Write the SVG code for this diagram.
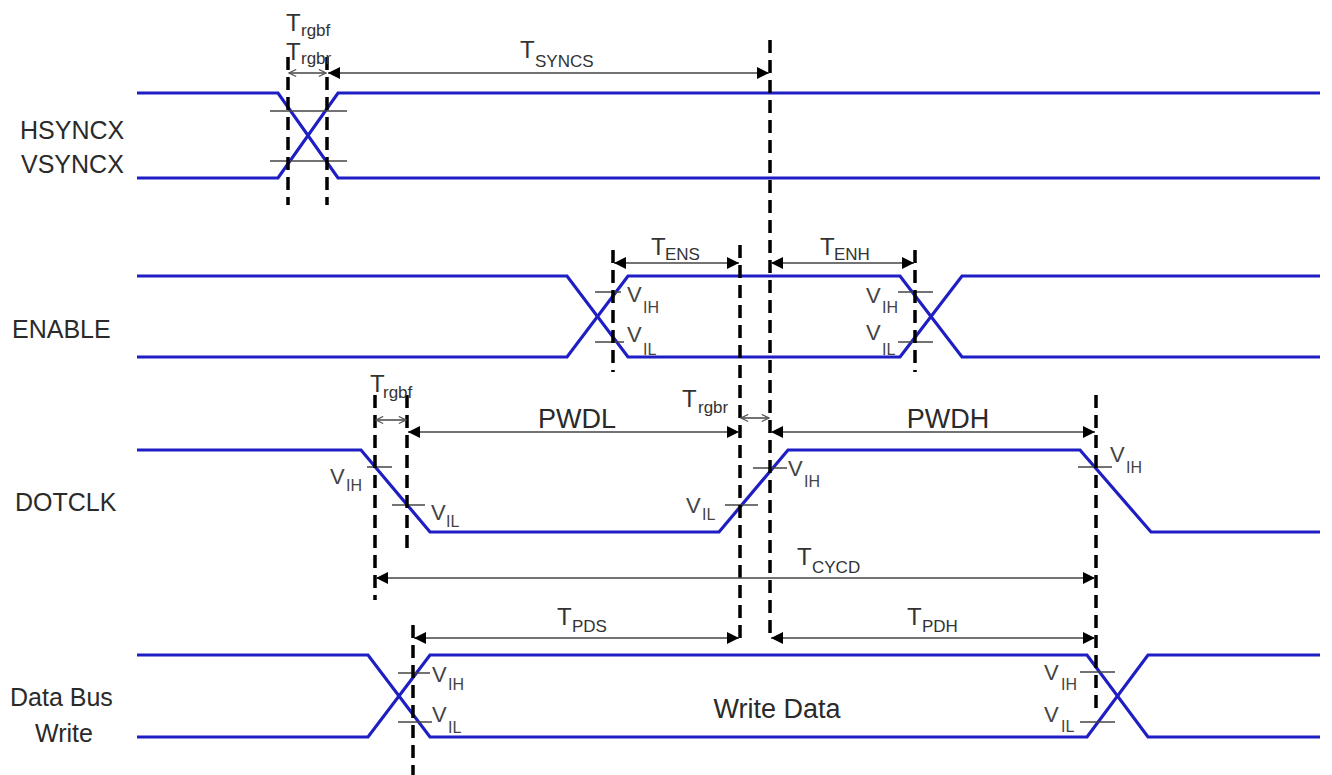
<svg xmlns="http://www.w3.org/2000/svg" width="1332" height="775" viewBox="0 0 1332 775">
<defs>
<style>
.sig{fill:none;stroke:#1e1ec4;stroke-width:3.2;stroke-linejoin:miter}
.dash{stroke:#000;stroke-width:3.5;stroke-dasharray:13 7;fill:none}
.dim{stroke:#444;stroke-width:1.5;fill:none}
.tick{stroke:#444;stroke-width:1.5}
.lbl{font-family:"Liberation Sans",Arial,sans-serif;font-size:25px;fill:#2a2a2a}
.big{font-size:27px}
.t{font-family:"Liberation Sans",Arial,sans-serif;font-size:24px;fill:#333}
.sub{font-size:17px}
.v{font-family:"Liberation Sans",Arial,sans-serif;font-size:22px;fill:#444}
.vs{font-size:16px}
</style>
<marker id="fa" viewBox="0 0 12 12" refX="12" refY="6" markerWidth="12" markerHeight="12" markerUnits="userSpaceOnUse" orient="auto-start-reverse"><path d="M0,0 L12,6 L0,12 z" fill="#000"/></marker>
<marker id="oa" viewBox="0 0 10 10" refX="9" refY="5" markerWidth="9" markerHeight="9" markerUnits="userSpaceOnUse" orient="auto-start-reverse"><path d="M1,1 L9,5 L1,9" fill="none" stroke="#555" stroke-width="1.3"/></marker>
</defs>
<rect width="1332" height="775" fill="#fff"/>

<g id="hsync">
<path class="sig" d="M137,93 H278 L338,178 H1320"/>
<path class="sig" d="M137,178 H278 L338,93 H1320"/>
<line class="tick" x1="270" y1="111" x2="347" y2="111"/>
<line class="tick" x1="270" y1="161" x2="347" y2="161"/>
<text class="lbl" x="20" y="139">HSYNCX</text>
<text class="lbl" x="21" y="173">VSYNCX</text>
</g>

<g id="enable">
<path class="sig" d="M137,276 H567 L628,357 H900 L962,276 H1320"/>
<path class="sig" d="M137,357 H567 L628,276 H900 L962,357 H1320"/>
<line class="tick" x1="595" y1="292" x2="621" y2="292"/>
<line class="tick" x1="595" y1="342" x2="624" y2="342"/>
<line class="tick" x1="898" y1="292" x2="933" y2="292"/>
<line class="tick" x1="898" y1="342" x2="933" y2="342"/>
<text class="lbl" x="12" y="338">ENABLE</text>
<text class="v" x="627" y="302">V<tspan class="vs" x="643" y="313">IH</tspan></text>
<text class="v" x="627" y="342">V<tspan class="vs" x="643" y="355">IL</tspan></text>
<text class="v" x="866" y="303">V<tspan class="vs" x="882" y="313">IH</tspan></text>
<text class="v" x="866" y="340">V<tspan class="vs" x="882" y="355">IL</tspan></text>
</g>

<g id="dotclk">
<path class="sig" d="M137,450 H265" stroke-width="5"/>
<path class="sig" d="M265,450 H361 L430,532 H719 L788,450 H1080 L1151,532 H1320"/>
<line class="tick" x1="367" y1="467" x2="392" y2="467"/>
<line class="tick" x1="392" y1="505" x2="425" y2="505"/>
<line class="tick" x1="725" y1="505" x2="758" y2="505"/>
<line class="tick" x1="753" y1="468" x2="787" y2="468"/>
<line class="tick" x1="1078" y1="467" x2="1112" y2="467"/>
<text class="lbl" x="15" y="511">DOTCLK</text>
<text class="v" x="330" y="484">V<tspan class="vs" x="346" y="491">IH</tspan></text>
<text class="v" x="431" y="520">V<tspan class="vs" x="446" y="527">IL</tspan></text>
<text class="v" x="686" y="513">V<tspan class="vs" x="702" y="520">IL</tspan></text>
<text class="v" x="788" y="476">V<tspan class="vs" x="804" y="487">IH</tspan></text>
<text class="v" x="1110" y="462">V<tspan class="vs" x="1126" y="473">IH</tspan></text>
</g>

<g id="databus">
<path class="sig" d="M137,655 H368 L430,737 H1087 L1148,655 H1320"/>
<path class="sig" d="M137,737 H368 L430,655 H1087 L1148,737 H1320"/>
<line class="tick" x1="398" y1="673" x2="430" y2="673"/>
<line class="tick" x1="398" y1="722" x2="432" y2="722"/>
<line class="tick" x1="1080" y1="672" x2="1115" y2="672"/>
<line class="tick" x1="1080" y1="722" x2="1115" y2="722"/>
<text class="lbl" x="10" y="706">Data Bus</text>
<text class="lbl" x="35" y="742">Write</text>
<text class="lbl big" x="777" y="718" text-anchor="middle">Write Data</text>
<text class="v" x="432" y="682">V<tspan class="vs" x="448" y="690">IH</tspan></text>
<text class="v" x="432" y="722">V<tspan class="vs" x="448" y="733">IL</tspan></text>
<text class="v" x="1044" y="680">V<tspan class="vs" x="1061" y="690">IH</tspan></text>
<text class="v" x="1044" y="722">V<tspan class="vs" x="1061" y="732">IL</tspan></text>
</g>

<g id="connectors">
<line class="dash" x1="288" y1="57" x2="288" y2="205"/>
<line class="dash" x1="327" y1="57" x2="327" y2="205"/>
<line class="dash" x1="770" y1="40" x2="770" y2="640"/>
<line class="dash" x1="740" y1="245" x2="740" y2="640"/>
<line class="dash" x1="613" y1="250" x2="613" y2="372"/>
<line class="dash" x1="915" y1="250" x2="915" y2="372"/>
<line class="dash" x1="375" y1="395" x2="375" y2="600"/>
<line class="dash" x1="407" y1="395" x2="407" y2="555"/>
<line class="dash" x1="1096" y1="395" x2="1096" y2="708"/>
<line class="dash" x1="413" y1="625" x2="413" y2="775"/>

<line class="dim" x1="289" y1="73" x2="326" y2="73" marker-start="url(#oa)" marker-end="url(#oa)"/>
<line class="dim" x1="328" y1="73" x2="769" y2="73" marker-start="url(#fa)" marker-end="url(#fa)"/>
<line class="dim" x1="614" y1="263" x2="739" y2="263" marker-start="url(#fa)" marker-end="url(#fa)"/>
<line class="dim" x1="771" y1="263" x2="914" y2="263" marker-start="url(#fa)" marker-end="url(#fa)"/>
<line class="dim" x1="376" y1="420" x2="406" y2="420" marker-start="url(#oa)" marker-end="url(#oa)"/>
<line class="dim" x1="408" y1="432" x2="739" y2="432" marker-start="url(#fa)" marker-end="url(#fa)"/>
<line class="dim" x1="741" y1="418" x2="769" y2="418" marker-start="url(#oa)" marker-end="url(#oa)"/>
<line class="dim" x1="771" y1="432" x2="1095" y2="432" marker-start="url(#fa)" marker-end="url(#fa)"/>
<line class="dim" x1="376" y1="578" x2="1095" y2="578" stroke="#777" marker-start="url(#fa)" marker-end="url(#fa)"/>
<line class="dim" x1="414" y1="638" x2="739" y2="638" marker-start="url(#fa)" marker-end="url(#fa)"/>
<line class="dim" x1="771" y1="638" x2="1095" y2="638" marker-start="url(#fa)" marker-end="url(#fa)"/>

<text class="t" x="286" y="31">T<tspan class="sub" x="301" y="36">rgbf</tspan></text>
<text class="t" x="286" y="60">T<tspan class="sub" x="301" y="64">rgbr</tspan></text>
<text class="t" x="520" y="58">T<tspan class="sub" x="535" y="67">SYNCS</tspan></text>
<text class="t" x="651" y="255">T<tspan class="sub" x="665" y="260">ENS</tspan></text>
<text class="t" x="820" y="255">T<tspan class="sub" x="834" y="260">ENH</tspan></text>
<text class="t" x="370" y="392">T<tspan class="sub" x="383" y="398">rgbf</tspan></text>
<text class="t" x="682" y="407">T<tspan class="sub" x="698" y="413">rgbr</tspan></text>
<text class="lbl big" x="577" y="428" text-anchor="middle">PWDL</text>
<text class="lbl big" x="948" y="428" text-anchor="middle">PWDH</text>
<text class="t" x="797" y="565">T<tspan class="sub" x="812" y="573">CYCD</tspan></text>
<text class="t" x="557" y="625">T<tspan class="sub" x="572" y="632">PDS</tspan></text>
<text class="t" x="907" y="625">T<tspan class="sub" x="922" y="632">PDH</tspan></text>
</g>
</svg>
